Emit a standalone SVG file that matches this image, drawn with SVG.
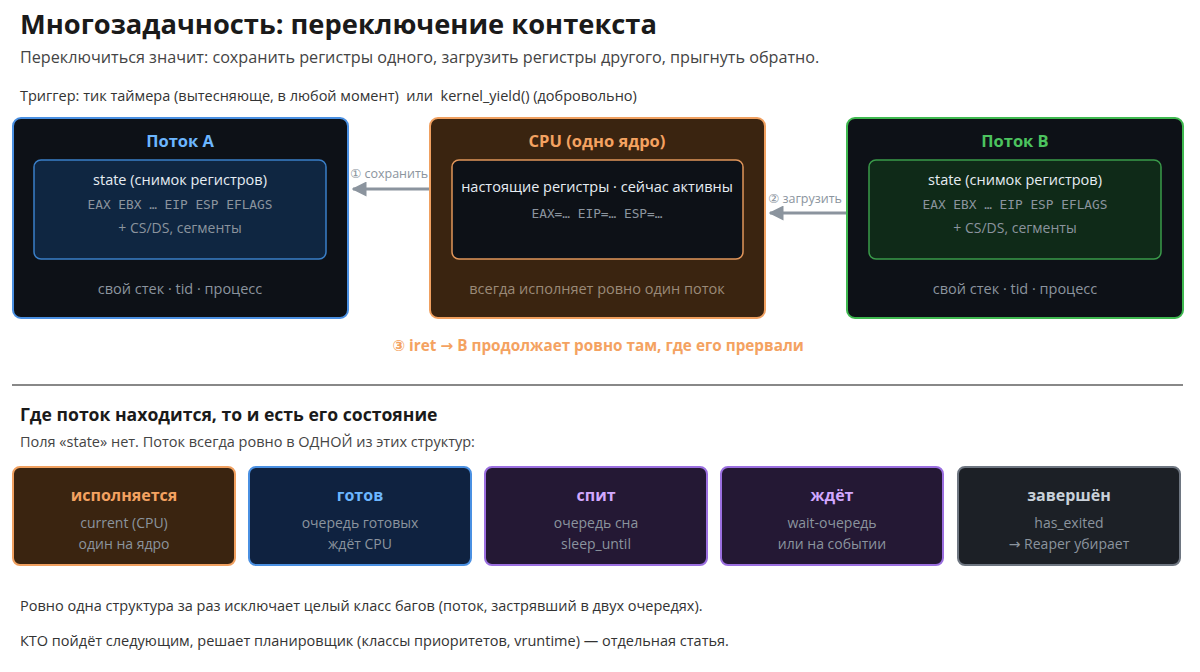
<svg xmlns="http://www.w3.org/2000/svg" width="1200" height="672" viewBox="0 0 1200 672">
<defs>
<marker id="ah" viewBox="0 0 10 10" refX="9" refY="5" markerWidth="5" markerHeight="5" markerUnits="strokeWidth" orient="auto">
<path d="M0,0 L10,5 L0,10 z" fill="#8b949e"/>
</marker>
<style>
text{font-family:"Open Sans","Noto Sans","DejaVu Sans",sans-serif}
.mono{font-family:"DejaVu Sans Mono","Liberation Mono",monospace;font-size:12.8px;fill:#8b949e}
.title{font-size:27.3px;font-weight:700;fill:#1a1a1a}
.sub{font-size:16.2px;fill:#444}
.body{font-size:14.5px;fill:#333}
.h{font-size:16px;font-weight:700;text-anchor:middle}
.c{text-anchor:middle}
.reg{font-size:14.5px;fill:#e6edf3}
.dim{font-size:14px;fill:#8b949e}
.lbl{font-size:12.5px;fill:#8b949e}
.conn{stroke:#8b949e;stroke-width:3;fill:none}
</style>
</defs>
<rect width="1200" height="672" fill="#ffffff"/>
<text class="title" x="20" y="34">Многозадачность: переключение контекста</text>
<text class="sub" x="20" y="63">Переключиться значит: сохранить регистры одного, загрузить регистры другого, прыгнуть обратно.</text>
<text class="body" x="20" y="101" xml:space="preserve">Триггер: тик таймера (вытесняюще, в любой момент)  или  kernel_yield() (добровольно)</text>

<g id="threadA">
<rect x="13" y="118" width="335" height="200" rx="8" fill="#0d1117" stroke="#4a90e2" stroke-width="2"/>
<text class="h" x="180" y="147" fill="#6cb6ff" style="font-size:16.5px">Поток A</text>
<rect x="34" y="160" width="292" height="99" rx="7" fill="#0f2641" stroke="#3a7fc8" stroke-width="1.5"/>
<text class="reg c" x="180" y="185">state (снимок регистров)</text>
<text class="mono c" x="180" y="209">EAX EBX … EIP ESP EFLAGS</text>
<text class="dim c" x="180" y="233">+ CS/DS, сегменты</text>
<text class="dim c" x="180" y="294" style="font-size:14.5px">свой стек · tid · процесс</text>
</g>

<g id="cpu">
<rect x="430" y="118" width="335" height="200" rx="8" fill="#3a2410" stroke="#f0a060" stroke-width="2"/>
<text class="h" x="597" y="147" fill="#f4a261" style="font-size:16.5px">CPU (одно ядро)</text>
<rect x="452" y="160" width="291" height="99" rx="7" fill="#0d1117" stroke="#e0955a" stroke-width="1.5"/>
<text class="reg c" x="597" y="192">настоящие регистры · сейчас активны</text>
<text class="mono c" x="597" y="218">EAX=… EIP=… ESP=…</text>
<text class="dim c" x="597" y="294" style="font-size:14.5px;fill:#9a8a78">всегда исполняет ровно один поток</text>
</g>

<g id="threadB">
<rect x="847" y="118" width="336" height="200" rx="8" fill="#0d1117" stroke="#3fb950" stroke-width="2"/>
<text class="h" x="1015" y="147" fill="#4cc35f" style="font-size:16.5px">Поток B</text>
<rect x="869" y="160" width="292" height="99" rx="7" fill="#0f2a18" stroke="#3a9a4a" stroke-width="1.5"/>
<text class="reg c" x="1015" y="185">state (снимок регистров)</text>
<text class="mono c" x="1015" y="209">EAX EBX … EIP ESP EFLAGS</text>
<text class="dim c" x="1015" y="233">+ CS/DS, сегменты</text>
<text class="dim c" x="1015" y="294" style="font-size:14.5px">свой стек · tid · процесс</text>
</g>

<g id="connectors">
<line class="conn" x1="429" y1="189" x2="353" y2="189" marker-end="url(#ah)"/>
<text class="lbl" x="350" y="178">① сохранить</text>
<line class="conn" x1="846" y1="213" x2="770" y2="213" marker-end="url(#ah)"/>
<text class="lbl" x="768" y="203">② загрузить</text>
</g>

<text x="598" y="351" class="c" style="font-size:15.3px;font-weight:700;fill:#f4a261">③ iret → B продолжает ровно там, где его прервали</text>

<line x1="12" y1="385" x2="1183" y2="385" stroke="#888" stroke-width="2"/>

<text x="20" y="421" style="font-size:17.6px;font-weight:700;fill:#1a1a1a">Где поток находится, то и есть его состояние</text>
<text class="body" x="20" y="447" style="fill:#444">Поля «state» нет. Поток всегда ровно в ОДНОЙ из этих структур:</text>

<g id="running">
<rect x="13" y="467" width="222" height="98" rx="7" fill="#3a2410" stroke="#f0a060" stroke-width="2"/>
<text class="h" x="124" y="501" fill="#f4a261">исполняется</text>
<text class="dim c" x="124" y="528">current (CPU)</text>
<text class="dim c" x="124" y="549">один на ядро</text>
</g>
<g id="ready">
<rect x="249" y="467" width="222" height="98" rx="7" fill="#0f2240" stroke="#4a90e2" stroke-width="2"/>
<text class="h" x="360" y="501" fill="#6cb6ff">готов</text>
<text class="dim c" x="360" y="528">очередь готовых</text>
<text class="dim c" x="360" y="549">ждёт CPU</text>
</g>
<g id="sleeping">
<rect x="485" y="467" width="222" height="98" rx="7" fill="#241834" stroke="#9b6fe0" stroke-width="2"/>
<text class="h" x="596" y="501" fill="#d2a8ff">спит</text>
<text class="dim c" x="596" y="528">очередь сна</text>
<text class="dim c" x="596" y="549">sleep_until</text>
</g>
<g id="waiting">
<rect x="721" y="467" width="222" height="98" rx="7" fill="#241834" stroke="#9b6fe0" stroke-width="2"/>
<text class="h" x="832" y="501" fill="#d2a8ff">ждёт</text>
<text class="dim c" x="832" y="528">wait-очередь</text>
<text class="dim c" x="832" y="549">или на событии</text>
</g>
<g id="exited">
<rect x="958" y="467" width="222" height="98" rx="7" fill="#1c2026" stroke="#6e7681" stroke-width="2"/>
<text class="h" x="1069" y="501" fill="#c9d1d9">завершён</text>
<text class="dim c" x="1069" y="528">has_exited</text>
<text class="dim c" x="1069" y="549">→ Reaper убирает</text>
</g>

<text class="body" x="20" y="611">Ровно одна структура за раз исключает целый класс багов (поток, застрявший в двух очередях).</text>
<text class="body" x="20" y="646">КТО пойдёт следующим, решает планировщик (классы приоритетов, vruntime) — отдельная статья.</text>
</svg>
